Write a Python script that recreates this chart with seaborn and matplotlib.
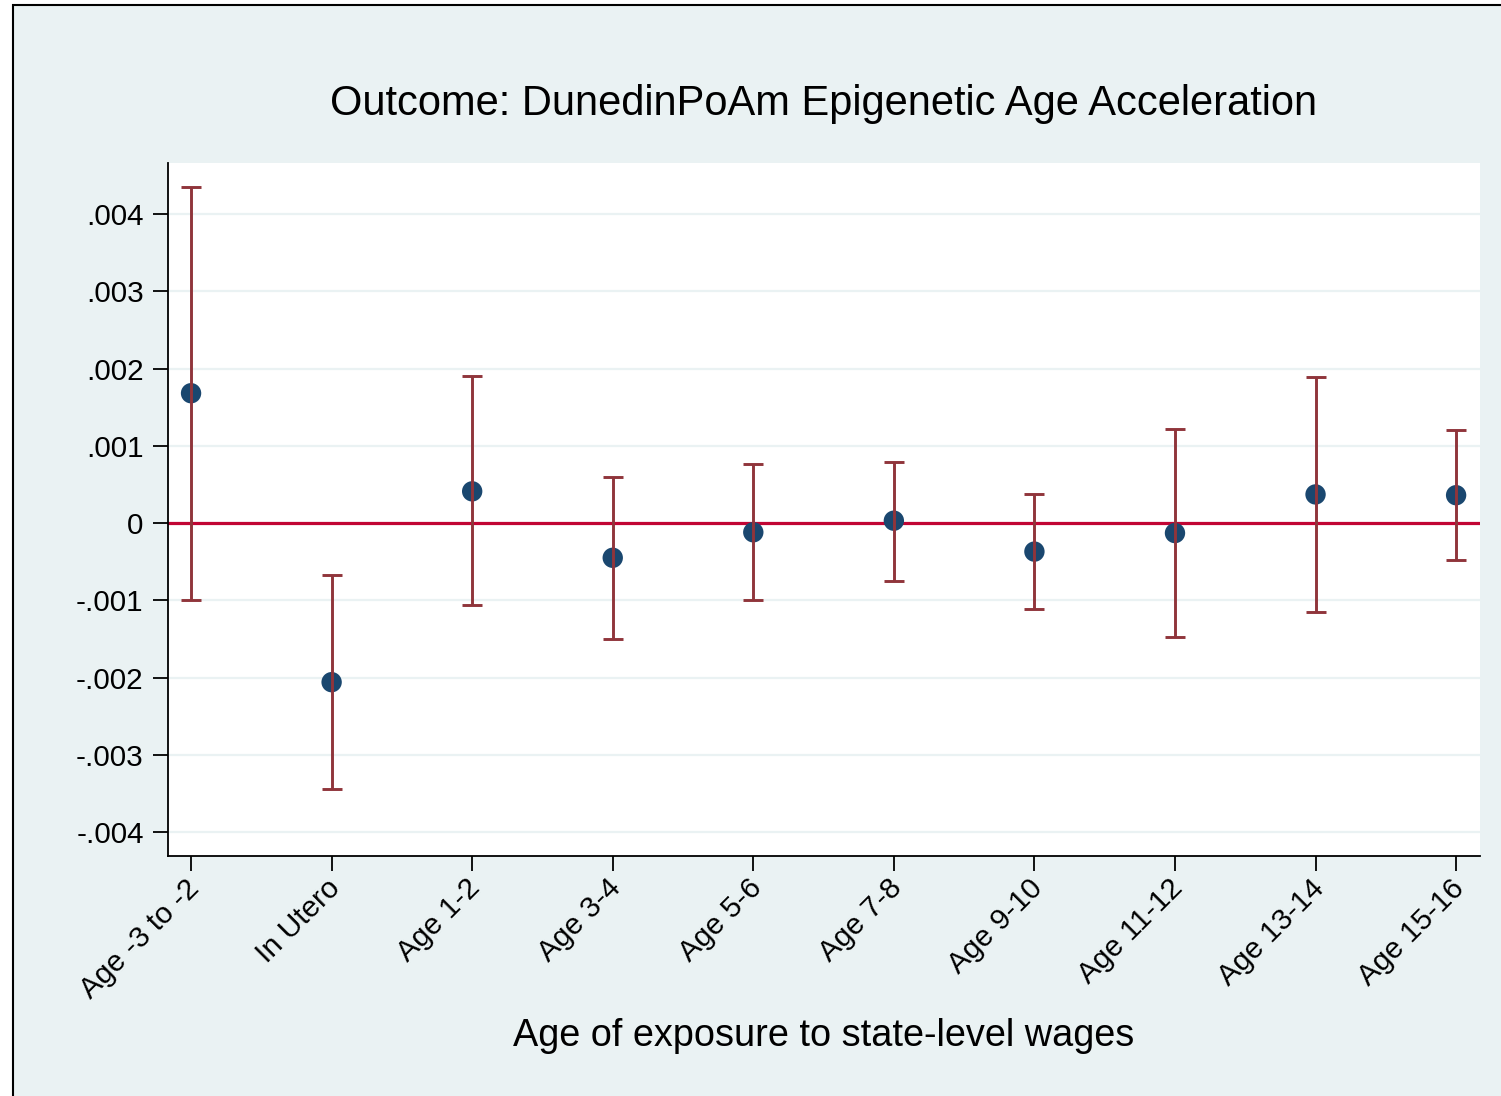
import numpy as np
import pandas as pd
import seaborn as sns
import matplotlib.pyplot as plt
import matplotlib.transforms as mtransforms
from matplotlib.patches import Rectangle

labels = ["Age -3 to -2", "In Utero", "Age 1-2", "Age 3-4", "Age 5-6",
          "Age 7-8", "Age 9-10", "Age 11-12", "Age 13-14", "Age 15-16"]
est = [0.00168, -0.00206, 0.00041, -0.00045, -0.00012,
       0.00003, -0.00037, -0.00013, 0.00037, 0.00036]
lo = [-0.00100, -0.00344, -0.00106, -0.00150, -0.00100,
      -0.00075, -0.00111, -0.00147, -0.00115, -0.00048]
hi = [0.00435, -0.00067, 0.00190, 0.00060, 0.00076,
      0.00079, 0.00038, 0.00122, 0.00189, 0.00120]
yticks = [-0.004, -0.003, -0.002, -0.001, 0, 0.001, 0.002, 0.003, 0.004]
ytick_labels = ["-.004", "-.003", "-.002", "-.001", "0", ".001", ".002", ".003", ".004"]

bg = "#EAF2F3"
sns.set_style("white")
plt.rcParams['font.family'] = ['Liberation Sans', 'DejaVu Sans']
plt.rcParams['text.color'] = 'black'
plt.rcParams['xtick.color'] = 'black'
plt.rcParams['ytick.color'] = 'black'

df = pd.DataFrame({"label": labels, "est": est, "lo": lo, "hi": hi})
df["pos"] = np.arange(len(df))

fig = plt.figure(figsize=(15.01, 10.96), dpi=100, facecolor="white")
fig.patches.append(Rectangle((13/1501, -0.1), 1.2, 1.1 - 5/1096, transform=fig.transFigure,
                             facecolor=bg, edgecolor="black", lw=1.5, zorder=-5))
ax = fig.add_axes([168/1501, 1 - 856/1096, (1480-168)/1501, (856-163)/1096])
ax.set_zorder(2)
ax.set_facecolor("white")

for y in yticks:
    ax.axhline(y, color=bg, lw=1.6, zorder=0)
ax.axhline(0, color="#C10534", lw=2.3, zorder=1)

sns.scatterplot(data=df, x="pos", y="est", ax=ax, color="#1A476F", s=215,
                edgecolor="none", zorder=2, legend=False)
ax.errorbar(df["pos"], df["est"], yerr=[df["est"] - df["lo"], df["hi"] - df["est"]],
            fmt="none", ecolor="#90353B", elinewidth=2.1, capsize=7, capthick=2.1, zorder=3)

ax.set_xlim(-0.164, 9.17)
ax.set_ylim(-0.00431, 0.00466)
ax.set_yticks(yticks)
ax.set_yticklabels(ytick_labels)
ax.set_xticks(df["pos"])
ax.set_xticklabels(labels, rotation=45, ha="right", rotation_mode="anchor")
ax.tick_params(axis="both", length=10.5, width=1.3, color="black", labelsize=21.3,
               labelcolor="black", direction="out", left=True, bottom=True)
ax.tick_params(axis="y", pad=7)
ax.tick_params(axis="x", pad=4)
shift = mtransforms.ScaledTranslation(-6/100, 2/100, fig.dpi_scale_trans)
for lab in ax.get_xticklabels():
    lab.set_transform(lab.get_transform() + shift)
ax.set_xlabel("")
ax.set_ylabel("")
for s in ["top", "right"]:
    ax.spines[s].set_visible(False)
for s in ["left", "bottom"]:
    ax.spines[s].set_color("black")
    ax.spines[s].set_linewidth(1.3)

fig.text(824/1501, 1 - 104/1096, "Outcome: DunedinPoAm Epigenetic Age Acceleration",
         ha="center", va="center", fontsize=30, color="black")
fig.text(824/1501, 1 - 1036/1096, "Age of exposure to state-level wages",
         ha="center", va="center", fontsize=27.3, color="black")

fig.savefig("out.png", dpi=100, facecolor=fig.get_facecolor())
